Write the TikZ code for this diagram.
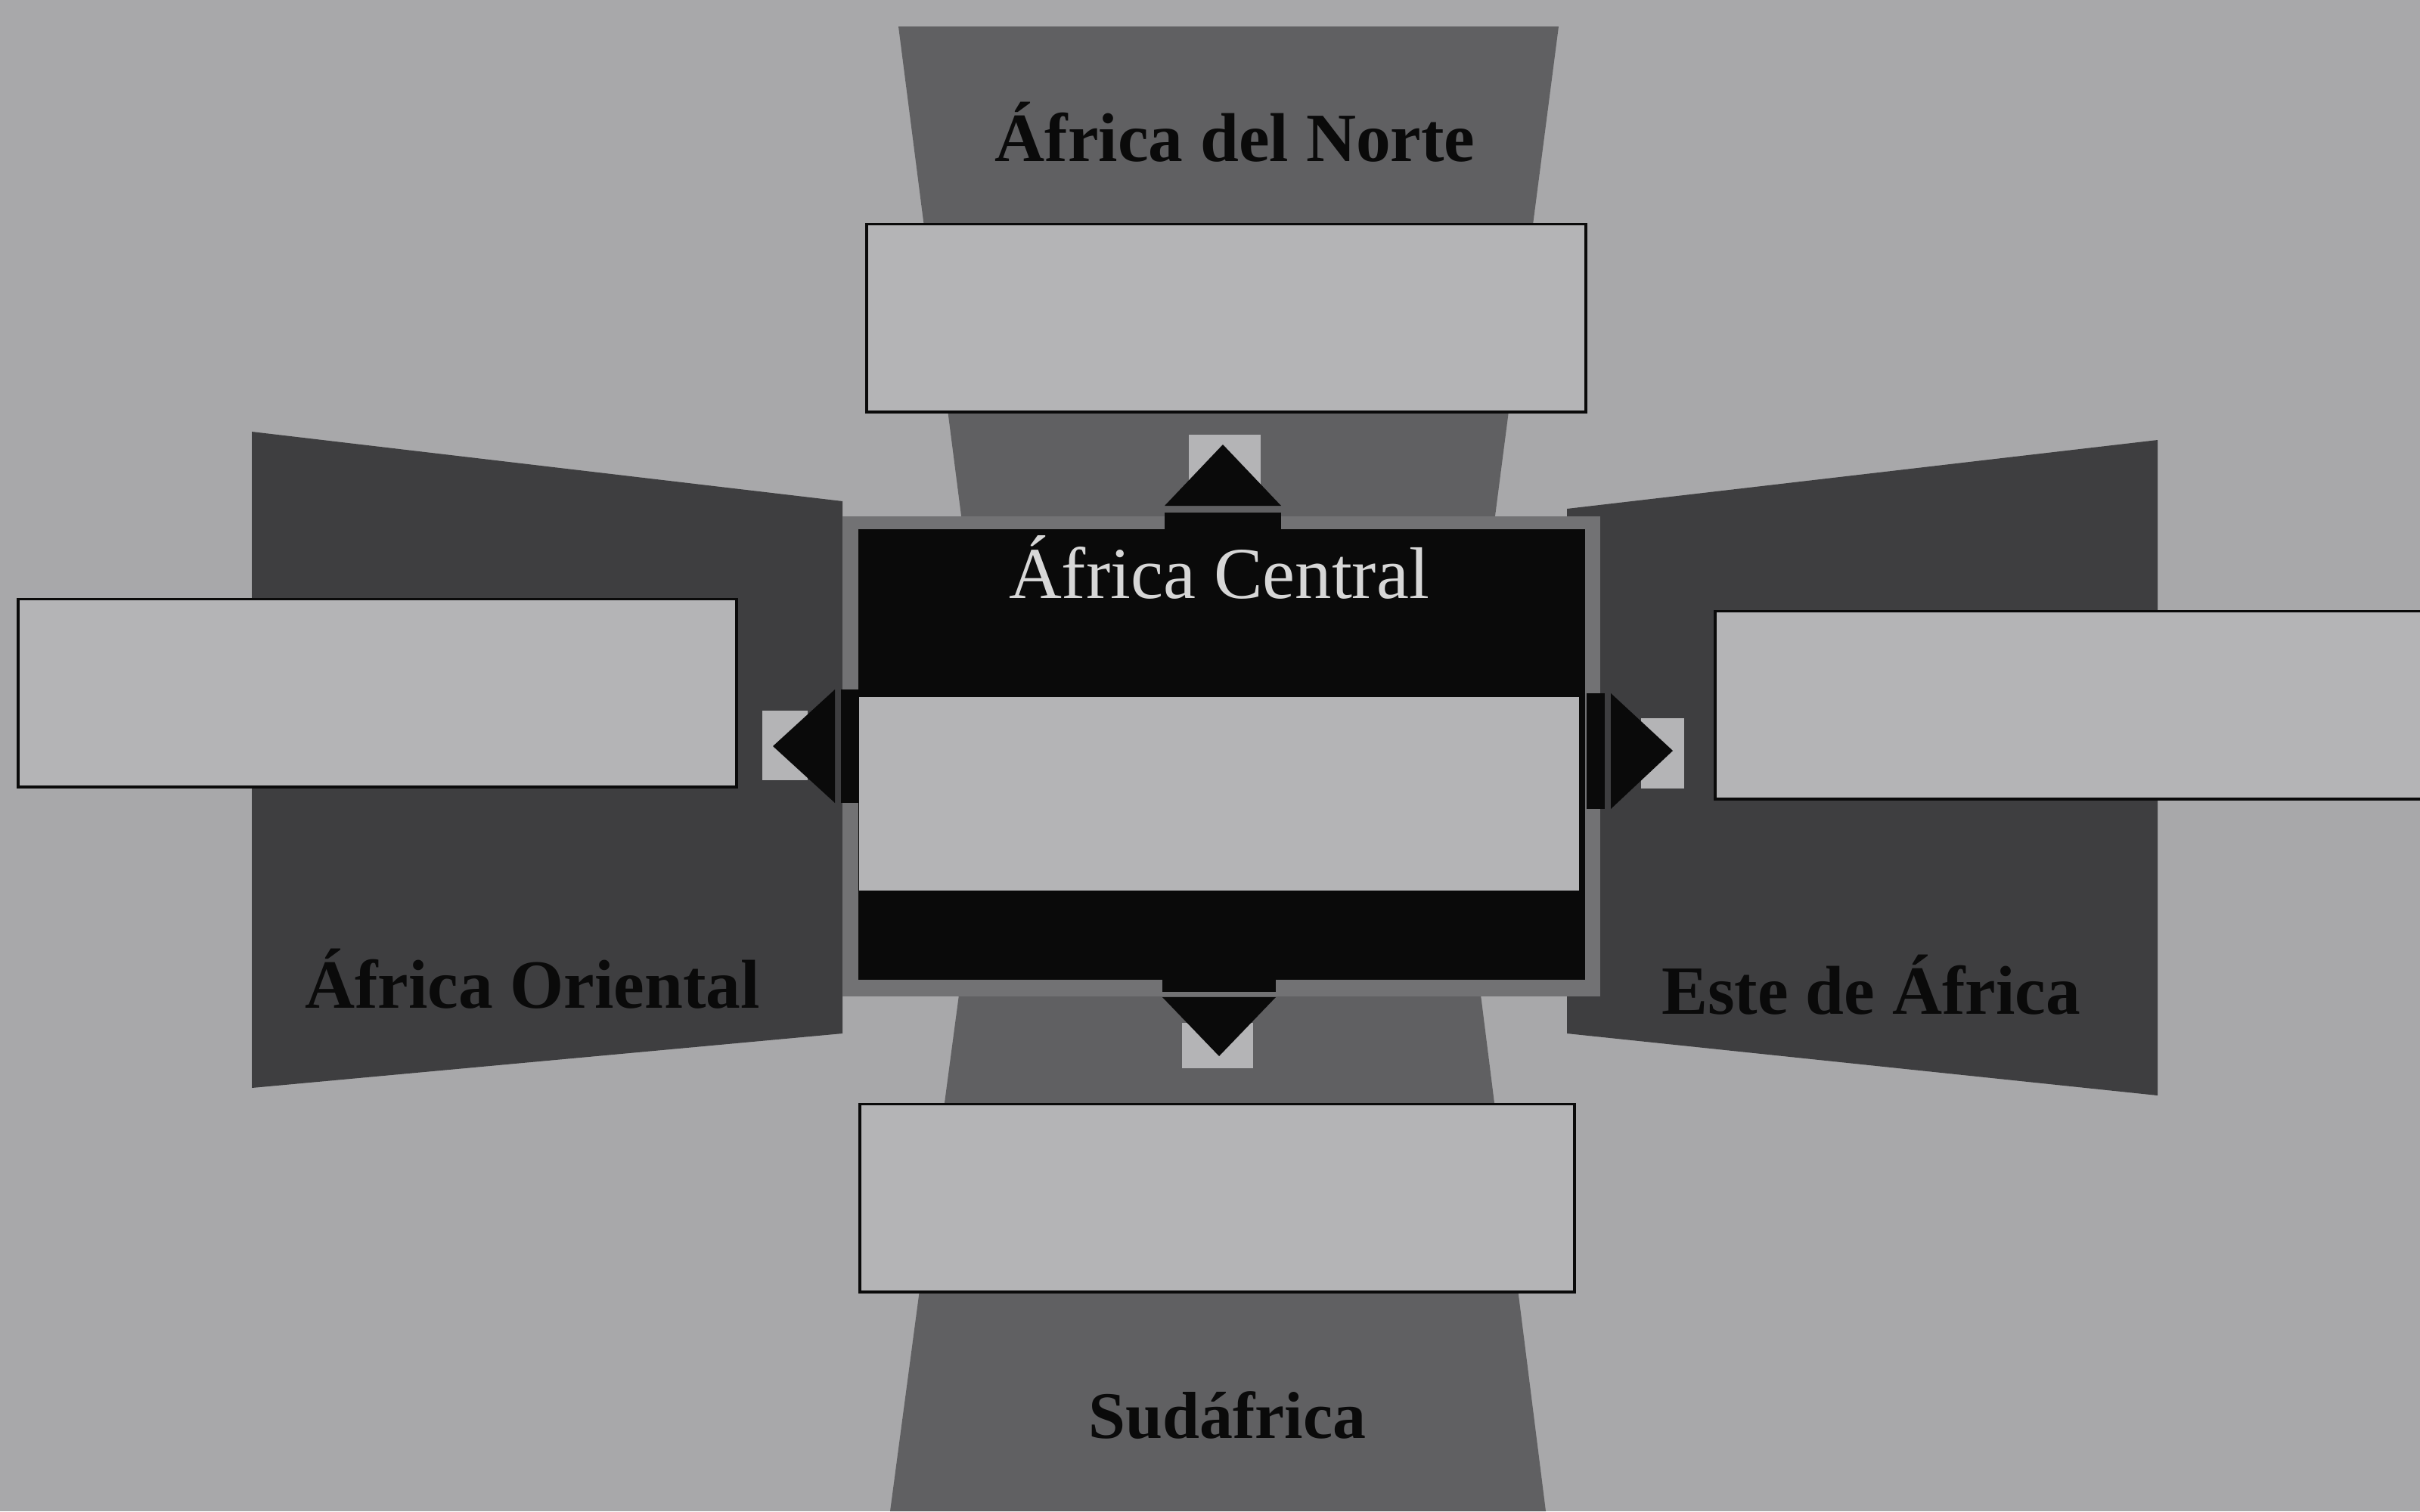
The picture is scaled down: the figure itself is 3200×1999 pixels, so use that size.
\documentclass[tikz,border=0pt]{standalone}
\usepackage{fontspec}
\setmainfont{Liberation Serif}
\usepackage{tikz}
\usetikzlibrary{positioning, calc}

\definecolor{paper}{RGB}{168,168,170}
\definecolor{cardgray}{RGB}{180,180,182}
\definecolor{midgray}{RGB}{96,96,98}
\definecolor{deepgray}{RGB}{62,62,64}
\definecolor{rimgray}{RGB}{114,114,116}
\definecolor{inkblack}{RGB}{10,10,10}
\definecolor{chalk}{RGB}{215,215,215}

\begin{document}
\begin{tikzpicture}[x=0.01cm, y=-0.01cm,
    every node/.style={inner sep=0pt, outer sep=0pt},
    card/.style={draw=inkblack, line width=1.1pt, fill=cardgray,
        minimum width=9.5cm, minimum height=2.48cm},
    region/.style={font=\fontsize{26}{30}\selectfont\bfseries, text=inkblack},
    tip/.style={fill=inkblack},
    notch/.style={fill=cardgray}]
    \useasboundingbox[fill=paper] (0,0) rectangle (3200,1999);

    % the four bands
    \fill[midgray] (1188,35) -- (2061,35) -- (1976,690) -- (1272,690) -- cycle;
    \fill[midgray] (1268,1316) -- (1958,1316) -- (2044,1999) -- (1177,1999) -- cycle;
    \fill[deepgray] (333,571) -- (1114,663) -- (1114,1367) -- (333,1439) -- cycle;
    \fill[deepgray] (2072,673) -- (2853,582) -- (2853,1449) -- (2072,1367) -- cycle;

    % centre block
    \node[fill=rimgray, minimum width=10.02cm, minimum height=6.35cm] (rim) at (1615,1000.5) {};
    \node[fill=inkblack, minimum width=9.61cm, minimum height=5.96cm] (core) at (1615.5,998) {};
    \node[fill=cardgray, minimum width=9.51cm, minimum height=2.56cm] (slot) at (1612,1050) {};
    \node[font=\fontsize{27.5}{32}\selectfont, text=chalk] (central) at (1612,750) {África Central};

    % arrows out of the centre
    \fill[notch] (1572,575) rectangle (1667,668);
    \fill[tip] (1540,678) rectangle (1694,700);
    \fill[tip] (1540,669) -- (1694,669) -- (1617,588) -- cycle;

    \fill[notch] (1563,1353) rectangle (1657,1413);
    \fill[tip] (1537,1296) rectangle (1687,1312);
    \fill[tip] (1537,1319) -- (1687,1319) -- (1612,1397) -- cycle;

    \fill[notch] (1008,940) rectangle (1068,1032);
    \fill[tip] (1112,912) rectangle (1135,1062);
    \fill[tip] (1104,912) -- (1104,1062) -- (1022,987) -- cycle;

    \fill[notch] (2170,950) rectangle (2227,1043);
    \fill[tip] (2098,917) rectangle (2122,1070);
    \fill[tip] (2130,917) -- (2130,1070) -- (2212,993) -- cycle;

    % empty answer boxes
    \node[card] (nbox) at (1621.5,420.5) {};
    \node[card] (wbox) at (499,916.5) {};
    \node[card, minimum width=9.62cm] (ebox) at (2749,932.5) {};
    \node[card, minimum width=9.45cm] (sbox) at (1609.5,1584.5) {};

    % region names
    \node[region] (north) at (1633,175) {África del Norte};
    \node[region] (west) at (704,1295) {África Oriental};
    \node[region] (east) at (2474,1303) {Este de África};
    \node[region, font=\fontsize{25}{29}\selectfont\bfseries] (south) at (1623,1872) {Sudáfrica};
\end{tikzpicture}
\end{document}
